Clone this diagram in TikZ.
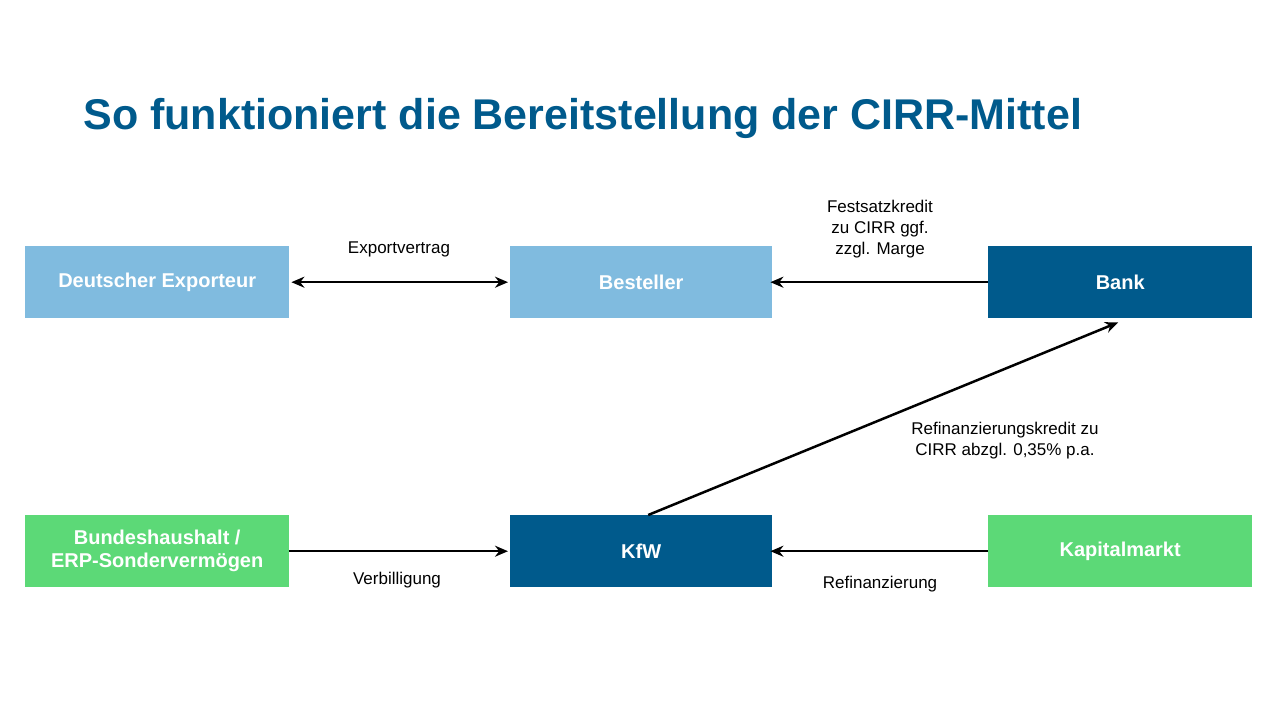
\documentclass[tikz,border=0pt]{standalone}
\usepackage{fontspec}
\setmainfont{Liberation Sans}
\usetikzlibrary{arrows.meta}
\definecolor{lb}{HTML}{80BBDF}
\definecolor{db}{HTML}{005A8C}
\definecolor{gr}{HTML}{5CD977}
\begin{document}
\begin{tikzpicture}[x=1pt,y=-1pt,
  box/.style={minimum width=264pt,minimum height=72pt,inner sep=0pt,text=white,font=\fontsize{20}{23}\selectfont\bfseries,align=center,anchor=north west},
  lbl/.style={font=\fontsize{17}{21}\selectfont,align=center},
  arr/.style={line width=2.5pt,-{Stealth[length=13pt,width=11pt]}}]
\useasboundingbox (0,0) rectangle (1280,720);
\node[anchor=west,text=db,font=\fontsize{43}{50}\selectfont\bfseries] (t) at (80,118) {So funktioniert die Bereitstellung der CIRR-Mittel};
\node[box,fill=lb] (de) at (25,246) {Deutscher Exporteur};
\node[box,fill=lb,minimum width=262pt] (be) at (510,246) {Besteller};
\node[box,fill=db] (ba) at (988,246) {Bank};
\node[box,fill=gr] (bh) at (25,515) {Bundeshaushalt /\\ERP-Sondervermögen};
\node[box,fill=db,minimum width=262pt] (kf) at (510,515) {KfW};
\node[box,fill=gr] (km) at (988,515) {Kapitalmarkt};
\draw[line width=2.5pt,{Stealth[length=13pt,width=11pt]}-{Stealth[length=13pt,width=11pt]}] (de.east)++(2,0) coordinate (a1) (a1) -- ([xshift=-2pt]be.west);
\draw[arr] (ba.west) -- ([xshift=-2pt]be.east);
\draw[arr] (bh.east) -- ([xshift=-2pt]kf.west);
\draw[arr] (km.west) -- ([xshift=-2pt]kf.east);
\draw[arr] ([xshift=7pt]kf.north) -- ([xshift=-2pt,yshift=-4pt]ba.south);
\node[lbl] (l1) at (399,249) {Exportvertrag};
\node[lbl] (l2) at (880,229) {Festsatzkredit\\zu CIRR ggf.\\zzgl. Marge};
\node[lbl] (l3) at (1005,441) {Refinanzierungskredit zu\\CIRR abzgl. 0,35\% p.a.};
\node[lbl] (l4) at (397,580) {Verbilligung};
\node[lbl] (l5) at (880,584) {Refinanzierung};
\end{tikzpicture}
\end{document}
